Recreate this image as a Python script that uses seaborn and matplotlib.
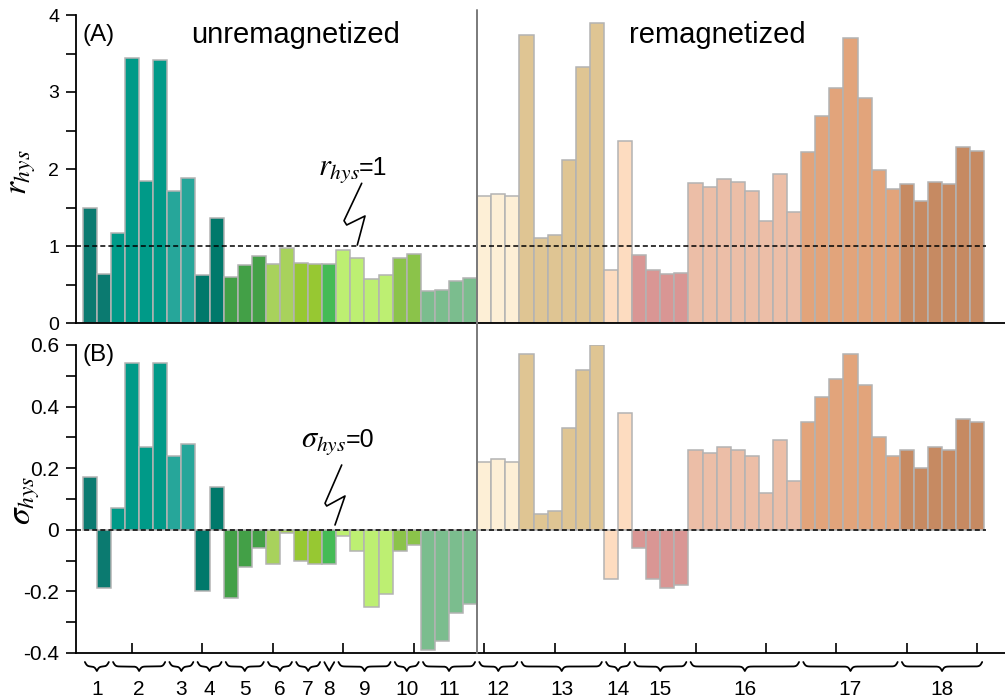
import numpy as np
import pandas as pd
import matplotlib
matplotlib.use("Agg")
import matplotlib.pyplot as plt
import seaborn as sns
from matplotlib.lines import Line2D
from matplotlib.transforms import blended_transform_factory
from matplotlib.ticker import MultipleLocator, FuncFormatter

# ---- data -------------------------------------------------------------
group_labels = [str(i) for i in range(1, 19)]
group_sizes = [2, 4, 2, 2, 3, 2, 2, 1, 4, 2, 4, 3, 6, 2, 4, 8, 7, 6]
group_colors = [
    "#0b7a70", "#009a88", "#26a69a", "#00796b", "#43a047", "#a8d25c",
    "#97c832", "#45bb55", "#bdef72", "#8bc34a", "#7bbd8e", "#fdefd6",
    "#dfc593", "#fddcc0", "#d99694", "#ecbea7", "#e2a47b", "#c68a62",
]
n_unremagnetized = 28

r_hys = [
    1.49, 0.64,
    1.17, 3.44, 1.85, 3.42,
    1.72, 1.88,
    0.62, 1.37,
    0.60, 0.75, 0.87,
    0.77, 0.97,
    0.78, 0.77,
    0.76,
    0.95, 0.85, 0.57, 0.62,
    0.85, 0.89,
    0.41, 0.43, 0.54, 0.58,
    1.65, 1.68, 1.65,
    3.74, 1.11, 1.14, 2.12, 3.32, 3.90,
    0.69, 2.37,
    0.88, 0.69, 0.64, 0.65,
    1.82, 1.77, 1.87, 1.83, 1.71, 1.33, 1.94, 1.44,
    2.22, 2.69, 3.05, 3.70, 2.92, 1.99, 1.74,
    1.80, 1.59, 1.83, 1.81, 2.29, 2.24,
]

sigma_hys = [
    0.17, -0.19,
    0.07, 0.54, 0.27, 0.54,
    0.24, 0.28,
    -0.20, 0.14,
    -0.22, -0.12, -0.06,
    -0.11, -0.01,
    -0.10, -0.11,
    -0.11,
    -0.02, -0.07, -0.25, -0.21,
    -0.07, -0.05,
    -0.39, -0.36, -0.27, -0.24,
    0.22, 0.23, 0.22,
    0.57, 0.05, 0.06, 0.33, 0.52, 0.60,
    -0.16, 0.38,
    -0.06, -0.16, -0.19, -0.18,
    0.26, 0.25, 0.27, 0.26, 0.24, 0.12, 0.29, 0.16,
    0.35, 0.43, 0.49, 0.57, 0.47, 0.30, 0.24,
    0.26, 0.20, 0.27, 0.26, 0.36, 0.35,
]

# ---- style ------------------------------------------------------------
sns.set_theme(style="ticks")
plt.rcParams["font.family"] = ["Liberation Sans", "DejaVu Sans"]
plt.rcParams["mathtext.fontset"] = "stix"
plt.rcParams["axes.unicode_minus"] = False
for key in ("text.color", "axes.labelcolor", "xtick.color", "ytick.color",
            "axes.edgecolor"):
    plt.rcParams[key] = "black"

df = pd.DataFrame({
    "pos": np.arange(len(r_hys)),
    "group": np.repeat(group_labels, group_sizes),
    "r": r_hys,
    "sigma": sigma_hys,
})
palette = dict(zip(group_labels, group_colors))

W, H = 1005, 698
fig = plt.figure(figsize=(W / 100, H / 100), dpi=100)
fig.patch.set_facecolor("white")


def fx(px):
    return px / W


def fy(py):
    return 1 - py / H


ax_top = fig.add_axes([fx(76), fy(323), fx(1005) - fx(76), fy(15) - fy(323)])
ax_bot = fig.add_axes([fx(76), fy(653), fx(1005) - fx(76), fy(345) - fy(653)])

x_lo, x_hi = -0.98, 64.97
for ax, col in ((ax_top, "r"), (ax_bot, "sigma")):
    sns.barplot(
        data=df, x="pos", y=col, hue="group", hue_order=group_labels,
        palette=palette, dodge=False, native_scale=True, width=1.0,
        saturation=1, errorbar=None, edgecolor="#b3b3b3", linewidth=1.1,
        legend=False, ax=ax,
    )
    ax.set_xlim(x_lo, x_hi)
    ax.set_xlabel("")
    ax.set_ylabel("")
    ax.set_facecolor("white")
    for s in ("top", "right"):
        ax.spines[s].set_visible(False)
    for s in ("left", "bottom"):
        ax.spines[s].set_linewidth(1.3)
        ax.spines[s].set_color("black")
    ax.tick_params(axis="y", which="both", direction="out", length=7,
                   width=1.2, color="black", labelcolor="black", pad=5)

# upper panel: hysteresis ratio
ax_top.set_ylim(0, 4)
ax_top.yaxis.set_major_locator(MultipleLocator(1))
ax_top.yaxis.set_minor_locator(MultipleLocator(0.5))
ax_top.tick_params(axis="y", labelsize=14)
ax_top.tick_params(axis="x", bottom=False, labelbottom=False)
ax_top.hlines(1, x_lo, 63.6, colors="black", linestyles=(0, (3.3, 2.0)),
              linewidth=1.1, zorder=4)

# lower panel: hysteresis shape parameter
ax_bot.set_ylim(-0.4, 0.6)
ax_bot.yaxis.set_major_locator(MultipleLocator(0.2))
ax_bot.yaxis.set_minor_locator(MultipleLocator(0.1))
ax_bot.yaxis.set_major_formatter(
    FuncFormatter(lambda v, _: "0" if abs(v) < 1e-9 else f"{v:.1f}"))
ax_bot.tick_params(axis="y", labelsize=15)
ax_bot.set_xticks(np.arange(3, 64, 5))
ax_bot.tick_params(axis="x", direction="in", length=7, width=1.2,
                   color="black", labelbottom=False)
ax_bot.hlines(0, x_lo, 63.6, colors="black", linestyles=(0, (3.3, 2.0)),
              linewidth=1.1, zorder=4)

# divider between unremagnetized and remagnetized samples
split_x = n_unremagnetized - 0.5
fig.add_artist(Line2D([split_x, split_x], [fy(10), fy(653)],
                      transform=blended_transform_factory(ax_bot.transData,
                                                          fig.transFigure),
                      color="#7a7a7a", linewidth=1.4, zorder=10))

# axis labels
fig.text(fx(23), fy(172), r"$r_{hys}$", rotation=90, ha="center",
         va="center", fontsize=24)
fig.text(fx(27), fy(500), r"$\sigma_{hys}$", rotation=90, ha="center",
         va="center", fontsize=24)

# panel tags and headings
fig.text(fx(82), fy(35), "(A)", ha="left", va="center", fontsize=17.5)
fig.text(fx(82), fy(355), "(B)", ha="left", va="center", fontsize=17.5)
fig.text(fx(296), fy(43), "unremagnetized", ha="center", va="baseline",
         fontsize=21)
fig.text(fx(717), fy(43), "remagnetized", ha="center", va="baseline",
         fontsize=21)

# reference-line callouts
fig.text(fx(360), fy(175), r"$r_{hys}$", ha="right", va="baseline",
         fontsize=22)
fig.text(fx(359), fy(175), "=1", ha="left", va="baseline", fontsize=18)
fig.add_artist(Line2D([fx(p) for p in (361.7, 344, 346.7, 365, 357.3)],
                      [fy(p) for p in (183.3, 220.7, 225, 216, 245)],
                      color="black", linewidth=1.2))
fig.text(fx(346), fy(447), r"$\sigma_{hys}$", ha="right", va="baseline",
         fontsize=22)
fig.text(fx(346), fy(447), "=0", ha="left", va="baseline", fontsize=18)
fig.add_artist(Line2D([fx(p) for p in (341.7, 325, 326.7, 345, 335)],
                      [fy(p) for p in (465, 503.3, 506, 496, 525)],
                      color="black", linewidth=1.2))

# group braces beneath the lower panel
brace_tf = blended_transform_factory(ax_bot.transData, ax_bot.transAxes)
ax_h_px = 653 - 345
tip_y = -9 / ax_h_px
depth = 9 / ax_h_px
beta = 12.0


def draw_brace(ax, x0, x1):
    xm = 0.5 * (x0 + x1)
    xs = np.linspace(x0, xm, 120)
    half = 1 / (1 + np.exp(-beta * (xs - x0))) + 1 / (1 + np.exp(-beta * (xs - xm)))
    ys = np.concatenate([half, half[::-1]])
    xx = np.concatenate([xs, (x0 + x1) - xs[::-1]])
    ax.add_line(Line2D(xx, tip_y - (ys - 0.5) * depth, transform=brace_tf,
                       color="black", linewidth=1.3, clip_on=False))


start = 0
for lab, size in zip(group_labels, group_sizes):
    left, right = start - 0.5 + 0.15, start + size - 0.5 - 0.15
    draw_brace(ax_bot, left, right)
    ax_bot.text(start + (size - 1) / 2, -(695 - 653) / ax_h_px, lab,
                transform=brace_tf, ha="center", va="baseline", fontsize=15)
    start += size

fig.savefig("out.png", dpi=100)
